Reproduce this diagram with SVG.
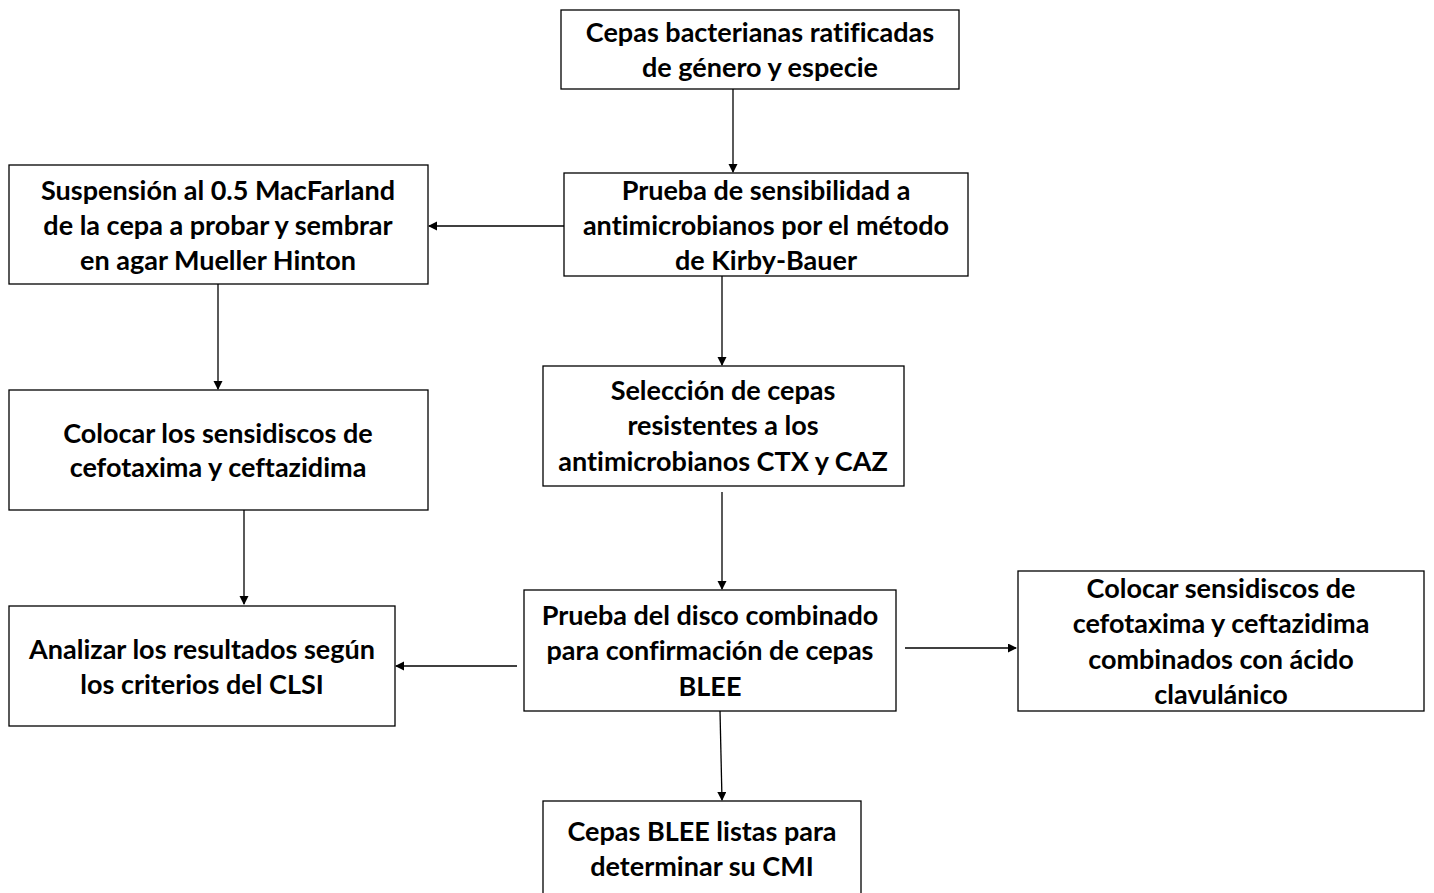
<svg xmlns="http://www.w3.org/2000/svg" width="1434" height="893" viewBox="0 0 1434 893">
<style>
.box{fill:#fff;stroke:#000;stroke-width:1.3}
.t{font-family:Lato,"Liberation Sans",sans-serif;font-weight:bold;font-size:27px;fill:#000;text-anchor:middle;font-variant-ligatures:none}
.c{stroke:#000;stroke-width:1.3;fill:none;marker-end:url(#ah)}
</style>
<defs>
<marker id="ah" markerWidth="10" markerHeight="10" refX="8" refY="4.5" orient="auto" markerUnits="userSpaceOnUse">
<path d="M0,0 L9,4.5 L0,9 Z" fill="#000"/>
</marker>
</defs>
<rect width="1434" height="893" fill="#fff"/>
<g id="connectors">
<line class="c" x1="733" y1="89" x2="733" y2="172"/>
<line class="c" x1="564" y1="226" x2="429" y2="226"/>
<line class="c" x1="722" y1="276" x2="722" y2="365"/>
<line class="c" x1="218" y1="284" x2="218" y2="389"/>
<line class="c" x1="244" y1="510" x2="244" y2="604"/>
<line class="c" x1="722" y1="492" x2="722" y2="589"/>
<line class="c" x1="517" y1="666" x2="396" y2="666"/>
<line class="c" x1="905" y1="648" x2="1016" y2="648"/>
<line class="c" x1="720" y1="711" x2="722" y2="800"/>
</g>
<g id="n1"><rect class="box" x="561" y="10" width="398" height="79"/>
<text class="t" x="760" y="42">Cepas bacterianas ratificadas</text>
<text class="t" x="760" y="77">de género y especie</text></g>
<g id="n2"><rect class="box" x="564" y="173" width="404" height="103"/>
<text class="t" x="766" y="200">Prueba de sensibilidad a</text>
<text class="t" x="766" y="235">antimicrobianos por el método</text>
<text class="t" x="766" y="270">de Kirby-Bauer</text></g>
<g id="n3"><rect class="box" x="9" y="165" width="419" height="119"/>
<text class="t" x="218" y="200">Suspensión al 0.5 MacFarland</text>
<text class="t" x="218" y="235">de la cepa a probar y sembrar</text>
<text class="t" x="218" y="270">en agar Mueller Hinton</text></g>
<g id="n4"><rect class="box" x="9" y="390" width="419" height="120"/>
<text class="t" x="218" y="443">Colocar los sensidiscos de</text>
<text class="t" x="218" y="477">cefotaxima y ceftazidima</text></g>
<g id="n5"><rect class="box" x="543" y="366" width="361" height="120"/>
<text class="t" x="723" y="400">Selección de cepas</text>
<text class="t" x="723" y="435">resistentes a los</text>
<text class="t" x="723" y="471">antimicrobianos CTX y CAZ</text></g>
<g id="n6"><rect class="box" x="524" y="590" width="372" height="121"/>
<text class="t" x="710" y="625">Prueba del disco combinado</text>
<text class="t" x="710" y="660">para confirmación de cepas</text>
<text class="t" x="710" y="696">BLEE</text></g>
<g id="n7"><rect class="box" x="9" y="606" width="386" height="120"/>
<text class="t" x="202" y="659">Analizar los resultados según</text>
<text class="t" x="202" y="694">los criterios del CLSI</text></g>
<g id="n8"><rect class="box" x="1018" y="571" width="406" height="140"/>
<text class="t" x="1221" y="598">Colocar sensidiscos de</text>
<text class="t" x="1221" y="633">cefotaxima y ceftazidima</text>
<text class="t" x="1221" y="669">combinados con ácido</text>
<text class="t" x="1221" y="704">clavulánico</text></g>
<g id="n9"><rect class="box" x="543" y="801" width="318" height="100"/>
<text class="t" x="702" y="841">Cepas BLEE listas para</text>
<text class="t" x="702" y="876">determinar su CMI</text></g>
</svg>
